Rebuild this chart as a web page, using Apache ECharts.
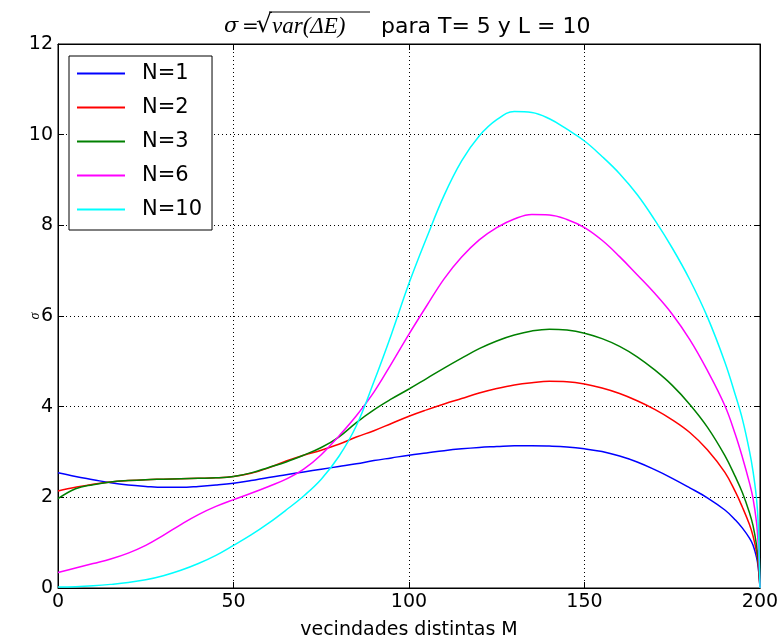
<!DOCTYPE html>
<html>
<head>
<meta charset="utf-8">
<script src="https://cdn.jsdelivr.net/npm/echarts@6/dist/echarts.min.js"></script>
<style>html,body{margin:0;padding:0;background:#fff;}#c{width:783px;height:642px;}</style>
</head>
<body>
<div id="c"></div>
<script>
const M = [0,5,10,15,20,25,30,35,40,45,50,55,60,65,70,75,80,85,90,95,100,105,110,115,120,125,130,135,140,145,150,155,160,165,170,175,180,185,190,193,195,197,198,199,199.5,200];
const seriesNames = ['N=1','N=2','N=3','N=6','N=10'];
const n1 = [2.54,2.46,2.39,2.32,2.27,2.24,2.22,2.22,2.24,2.27,2.31,2.37,2.44,2.50,2.56,2.62,2.68,2.74,2.81,2.87,2.93,2.98,3.03,3.07,3.10,3.12,3.14,3.14,3.13,3.11,3.07,3.01,2.91,2.78,2.61,2.42,2.21,1.99,1.72,1.50,1.32,1.10,0.95,0.68,0.45,0];
const n2 = [2.14,2.22,2.29,2.34,2.37,2.39,2.40,2.41,2.42,2.43,2.46,2.53,2.65,2.80,2.93,3.04,3.17,3.33,3.47,3.63,3.79,3.93,4.06,4.18,4.30,4.40,4.48,4.53,4.56,4.55,4.50,4.41,4.29,4.13,3.94,3.71,3.43,3.05,2.55,2.12,1.78,1.40,1.15,0.80,0.50,0];
const n3 = [1.97,2.19,2.28,2.34,2.37,2.39,2.40,2.41,2.42,2.43,2.46,2.54,2.66,2.78,2.93,3.10,3.33,3.65,3.93,4.17,4.39,4.62,4.85,5.07,5.28,5.45,5.58,5.67,5.71,5.69,5.62,5.50,5.33,5.10,4.81,4.47,4.05,3.55,2.92,2.45,2.10,1.66,1.38,0.95,0.60,0];
const n6 = [0.34,0.44,0.54,0.64,0.77,0.94,1.16,1.40,1.62,1.80,1.95,2.09,2.24,2.40,2.62,2.94,3.35,3.80,4.32,4.95,5.60,6.22,6.82,7.30,7.68,7.95,8.14,8.24,8.23,8.13,7.95,7.67,7.31,6.91,6.50,6.04,5.48,4.80,4.02,3.38,2.88,2.32,1.98,1.45,0.95,0];
const n10 = [0.02,0.03,0.05,0.08,0.12,0.18,0.27,0.39,0.54,0.72,0.94,1.17,1.43,1.72,2.03,2.40,2.90,3.58,4.55,5.60,6.72,7.72,8.66,9.42,9.97,10.33,10.51,10.49,10.35,10.12,9.86,9.52,9.14,8.68,8.12,7.50,6.80,5.98,4.98,4.25,3.72,3.02,2.58,1.98,1.40,0];
const xTicks = {min:0, max:200, interval:50};
const yTicks = {min:0, max:12, interval:2};
const colors = ['#0000ff','#ff0000','#008000','#ff00ff','#00ffff'];
const values = [n1,n2,n3,n6,n10];

const chart = echarts.init(document.getElementById('c'));
const font = 'DejaVu Sans';
const splitLine = {show:true, lineStyle:{color:'#000', type:[1,3], width:1}};
const axisLine = {show:true, onZero:false, lineStyle:{color:'#000', width:1}};
const tick = {show:true, inside:true, length:6, lineStyle:{color:'#000'}};
function t(x, text, fnt, extra){
  return Object.assign({type:'text', x:x, y:27, style:{text:text, font:fnt, fill:'#000', textAlign:'left', textVerticalAlign:'middle'}}, extra||{});
}
chart.setOption({
  animation:false,
  backgroundColor:'#fff',
  graphic:[
    t(224, 'σ', 'italic 21px "DejaVu Serif"'),
    t(242, '=', '20px "DejaVu Sans"'),
    t(256, '√', '25px "DejaVu Sans"', {y:25}),
    t(272, 'var(ΔE)', 'italic 23px "Liberation Serif"'),
    t(381, 'para T= 5 y L = 10', '22px "DejaVu Sans"'),
    {type:'line', shape:{x1:269, y1:12, x2:370, y2:12}, style:{stroke:'#000', lineWidth:1}}
  ],
  grid:{left:58, right:23, top:44, bottom:54, show:true, borderColor:'#000', borderWidth:1, outerBoundsMode:'none', containLabel:false},
  legend:{
    data:seriesNames, orient:'vertical', left:69, top:56,
    backgroundColor:'#fff', borderColor:'#000', borderWidth:1,
    padding:[7,10,10,8], itemGap:13, itemWidth:48, itemHeight:2, icon:'rect',
    textStyle:{fontFamily:font, fontSize:21, color:'#000', padding:[0,0,0,12]}
  },
  xAxis:[{
    type:'value', min:xTicks.min, max:xTicks.max, interval:xTicks.interval,
    name:'vecindades distintas M', nameLocation:'middle', nameGap:33, nameMoveOverlap:false,
    nameTextStyle:{fontFamily:font, fontSize:19, color:'#000'},
    axisLine:axisLine, axisTick:tick, splitLine:splitLine,
    axisLabel:{fontFamily:font, fontSize:19, color:'#000', margin:5}
  },{
    type:'value', position:'top', min:xTicks.min, max:xTicks.max, interval:xTicks.interval,
    axisLine:axisLine, axisTick:tick, splitLine:{show:false}, axisLabel:{show:false}
  }],
  yAxis:[{
    type:'value', min:yTicks.min, max:yTicks.max, interval:yTicks.interval,
    name:'σ', nameLocation:'middle', nameGap:16, nameRotate:90, nameMoveOverlap:false,
    nameTextStyle:{fontFamily:'Liberation Serif', fontStyle:'italic', fontSize:14, color:'#000'},
    axisLine:axisLine, axisTick:tick, splitLine:splitLine,
    axisLabel:{fontFamily:font, fontSize:19, color:'#000', margin:5}
  },{
    type:'value', position:'right', min:yTicks.min, max:yTicks.max, interval:yTicks.interval,
    axisLine:axisLine, axisTick:tick, splitLine:{show:false}, axisLabel:{show:false}
  }],
  series: seriesNames.map((nm,i)=>({
    name:nm, type:'line', xAxisIndex:0, yAxisIndex:0,
    data: M.map((m,j)=>[m, values[i][j]]),
    showSymbol:false, smooth:0.4,
    lineStyle:{color:colors[i], width:1.5},
    itemStyle:{color:colors[i]}
  }))
});
</script>
</body>
</html>
